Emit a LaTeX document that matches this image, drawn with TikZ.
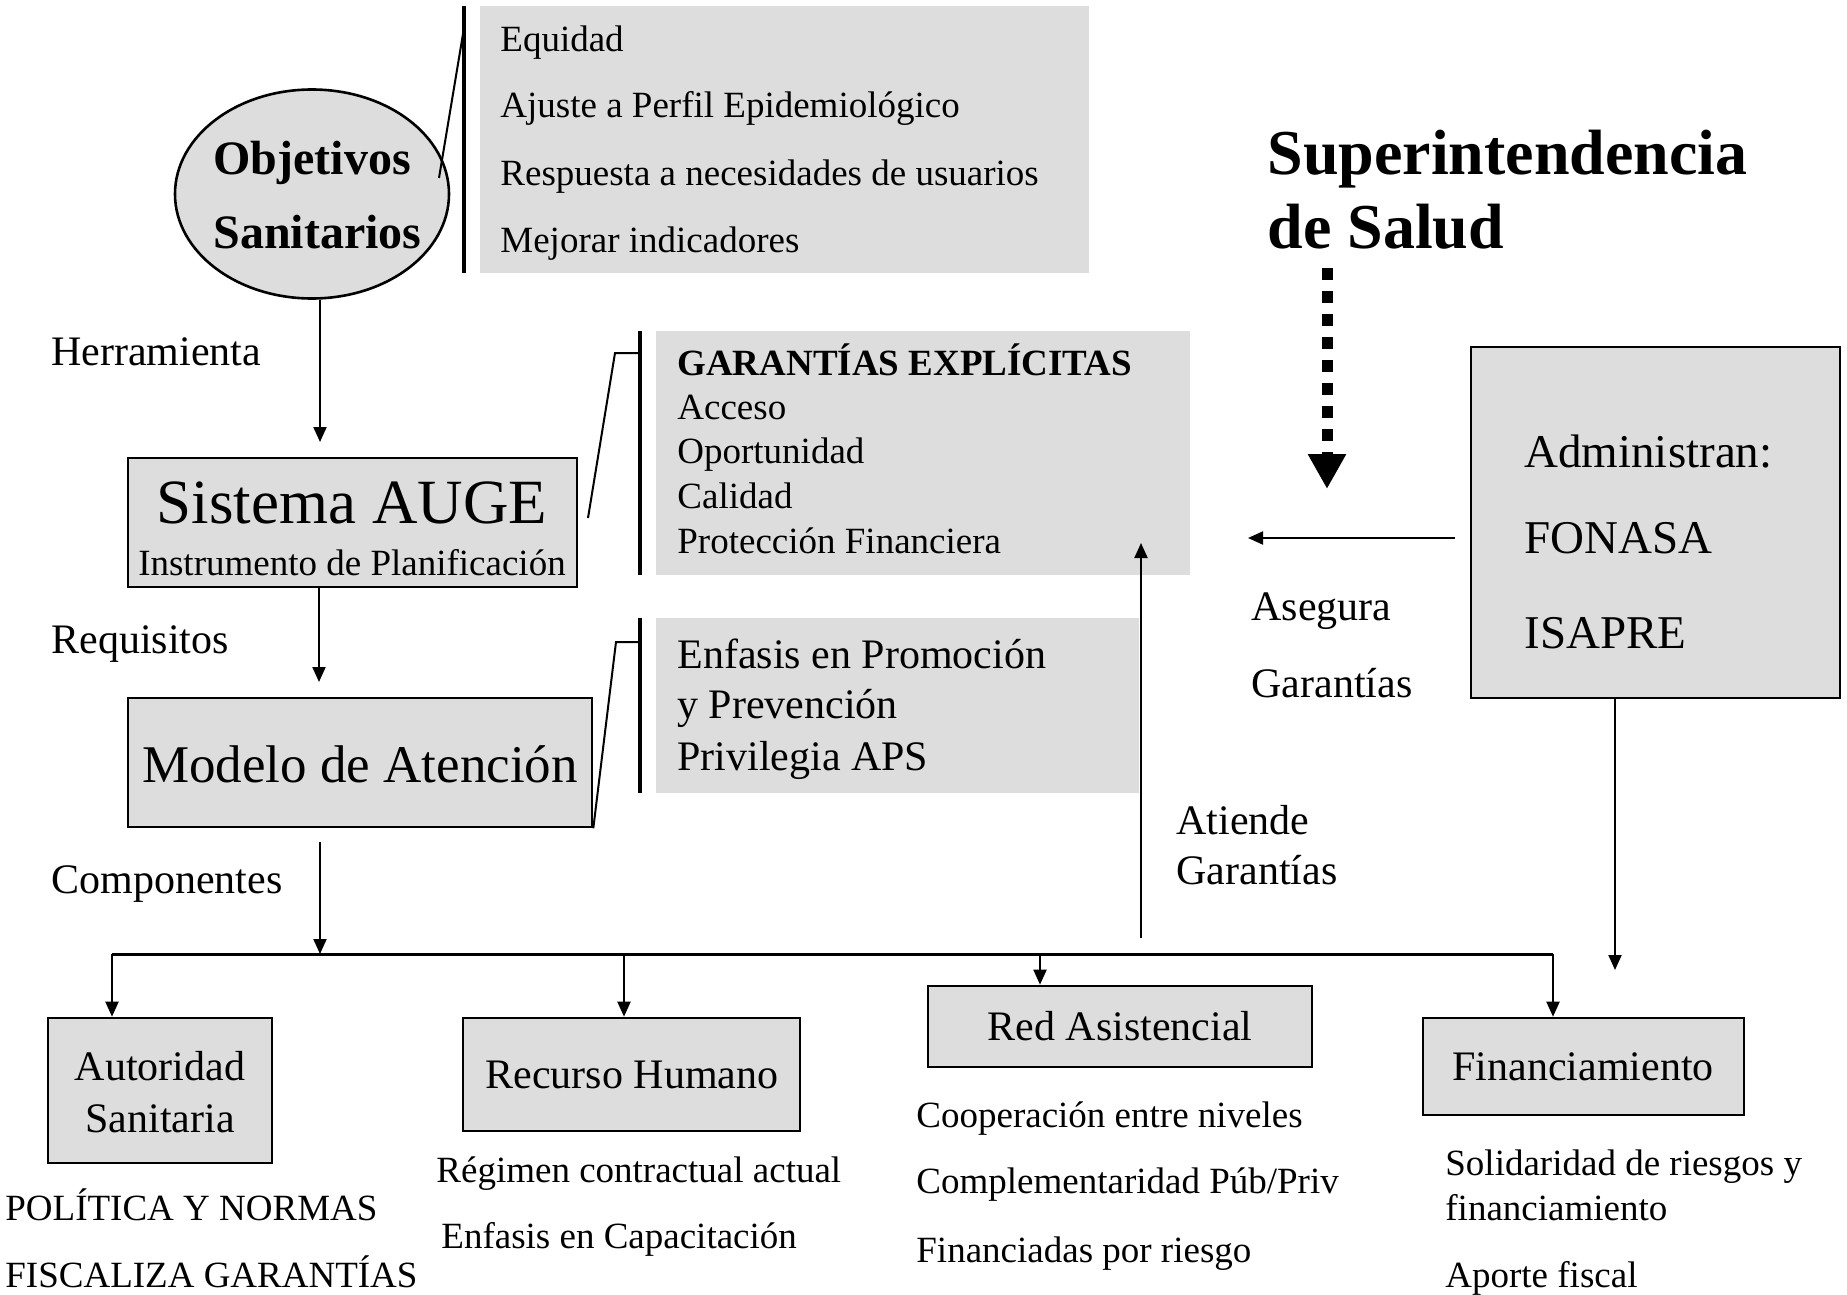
\documentclass[tikz,border=0pt]{standalone}
\usepackage{fontspec}
\setmainfont{Liberation Serif}
\usetikzlibrary{arrows.meta,shapes.geometric}
\definecolor{boxgrey}{HTML}{DDDDDD}
\tikzset{
  box/.style={draw, line width=1.3pt, fill=boxgrey, inner sep=0pt},
  panel/.style={fill=boxgrey, inner sep=0pt},
  txt/.style={anchor=base west, inner sep=0pt},
  ctxt/.style={anchor=base, inner sep=0pt},
  item/.style={txt, font=\fontsize{18.5}{22}\selectfont},
  lbl/.style={txt, font=\fontsize{21}{25}\selectfont},
  conn/.style={line width=1pt, -{Triangle[length=7.5pt,width=6.5pt]}},
  busline/.style={line width=1.5pt},
  bar/.style={line width=1.6pt},
  brack/.style={line width=1pt},
}

\begin{document}
\begin{tikzpicture}[x=0.5pt,y=-0.5pt]
  \useasboundingbox (0,0) rectangle (1847,1295);

  % grey panels with their brackets
  \node[panel, minimum width=304.5pt, minimum height=133.5pt] (objp) at (784.5,139.5) {};
  \node[panel, minimum width=267pt, minimum height=122pt] (garp) at (923,453) {};
  \node[panel, minimum width=241.5pt, minimum height=87.5pt] (enfp) at (897.5,705.5) {};

  % boxes
  \node[box, ellipse, minimum width=137pt, minimum height=104.5pt] (obj) at (312,194) {};
  \node[box, minimum width=224.5pt, minimum height=64.5pt] (auge) at (352.5,522.5) {};
  \node[box, minimum width=232pt, minimum height=64.5pt] (mod) at (360,762.5) {};
  \node[box, minimum width=112pt, minimum height=72.5pt] (aut) at (160,1090.5) {};
  \node[box, minimum width=168.5pt, minimum height=56.5pt] (rec) at (631.5,1074.5) {};
  \node[box, minimum width=192pt, minimum height=40.5pt] (red) at (1120,1026.5) {};
  \node[box, minimum width=160.5pt, minimum height=48.5pt] (fin) at (1583.5,1066.5) {};
  \node[box, minimum width=184.5pt, minimum height=175.5pt] (adm) at (1655.5,522.5) {};

  \draw[bar] (464,6) -- (464,273);
  \draw[bar] (640,331) -- (640,575);
  \draw[bar] (640,618) -- (640,793);
  \coordinate (objend) at (439,178);
  \coordinate (garend) at (588,518);
  \draw[brack] (464,28) -- (objend);
  \draw[brack] (640,353) -- (615,353) -- (garend);
  \draw[brack] (640,642) -- (616,642) -- (mod.south east);

  % texts in boxes
  \node[txt, font=\fontsize{24}{28}\bfseries] (obj1) at (213,175) {Objetivos};
  \node[txt, font=\fontsize{24}{28}\bfseries] (obj2) at (213,248) {Sanitarios};
  \node[ctxt, font=\fontsize{31.5}{36}\selectfont] (auge1) at (352,523) {Sistema AUGE};
  \node[ctxt, font=\fontsize{18.5}{22}\selectfont] (auge2) at (352,575) {Instrumento de Planificación};
  \node[ctxt, font=\fontsize{26.5}{30}\selectfont] (mod1) at (360,782) {Modelo de Atención};
  \node[ctxt, font=\fontsize{21}{25}\selectfont] (aut1) at (160,1080) {Autoridad};
  \node[ctxt, font=\fontsize{21}{25}\selectfont] (aut2) at (160,1132) {Sanitaria};
  \node[ctxt, font=\fontsize{21}{25}\selectfont] (rec1) at (632,1088) {Recurso Humano};
  \node[ctxt, font=\fontsize{21}{25}\selectfont] (red1) at (1120,1040) {Red Asistencial};
  \node[ctxt, font=\fontsize{21}{25}\selectfont] (fin1) at (1583,1080) {Financiamiento};
  \node[txt, font=\fontsize{23.5}{28}\selectfont] (adm1) at (1524,467) {Administran:};
  \node[txt, font=\fontsize{23.5}{28}\selectfont] (adm2) at (1524,553) {FONASA};
  \node[txt, font=\fontsize{23.5}{28}\selectfont] (adm3) at (1524,648) {ISAPRE};

  % panel lists
  \foreach \t/\y [count=\i] in {Equidad/52, Ajuste a Perfil Epidemiológico/118,
      Respuesta a necesidades de usuarios/185, Mejorar indicadores/252}
    \node[item] (eq\i) at (500,\y) {\t};
  \node[item, font=\fontsize{18.5}{22}\bfseries] (gar0) at (677,375) {GARANTÍAS EXPLÍCITAS};
  \foreach \t/\y [count=\i] in {Acceso/419, Oportunidad/463, Calidad/508, Protección Financiera/553}
    \node[item] (gar\i) at (677,\y) {\t};
  \foreach \t/\y [count=\i] in {Enfasis en Promoción/668, y Prevención/718, Privilegia APS/770}
    \node[lbl] (enf\i) at (677,\y) {\t};

  % labels
  \node[lbl] (herr) at (51,365) {Herramienta};
  \node[lbl] (requ) at (51,653) {Requisitos};
  \node[lbl] (compo) at (51,893) {Componentes};
  \node[lbl] (ase1) at (1251,620) {Asegura};
  \node[lbl] (ase2) at (1251,697) {Garantías};
  \node[lbl] (ati1) at (1176,834) {Atiende};
  \node[lbl] (ati2) at (1176,884) {Garantías};
  \node[txt, font=\fontsize{32}{36}\bfseries] (sup1) at (1267,175) {Superintendencia};
  \node[txt, font=\fontsize{32}{36}\bfseries] (sup2) at (1267,248) {de Salud};

  \node[item] (aut3) at (5,1220) {POLÍTICA Y NORMAS};
  \node[item] (aut4) at (5,1287) {FISCALIZA GARANTÍAS};
  \node[item] (rec2) at (436,1182) {Régimen contractual actual};
  \node[item] (rec3) at (441,1248) {Enfasis en Capacitación};
  \node[item] (red2) at (916,1127) {Cooperación entre niveles};
  \node[item] (red3) at (916,1193) {Complementaridad Púb/Priv};
  \node[item] (red4) at (916,1262) {Financiadas por riesgo};
  \node[item] (fin2) at (1445,1175) {Solidaridad de riesgos y};
  \node[item] (fin3) at (1445,1220) {financiamiento};
  \node[item] (fin4) at (1445,1287) {Aporte fiscal};

  % connectors
  \coordinate (herrtip) at (320,442);
  \coordinate (reqtip) at (319,682);
  \coordinate (comp0) at (320,842);
  \draw[conn] (obj.south -| herrtip) -- (herrtip);
  \draw[conn] (auge.south -| reqtip) -- (reqtip);

  \coordinate (b1) at (112,954);
  \coordinate (b2) at (624,954);
  \coordinate (b3) at (1040,954);
  \coordinate (b4) at (1553,954);
  \draw[conn] (comp0) -- (comp0 |- b1);
  \draw[busline] (b1) -- (b4);
  \foreach \b/\n in {b1/aut, b2/rec, b3/red, b4/fin}
    \draw[conn] (\b) -- (\b |- \n.north);

  \coordinate (ati0) at (1141,938);
  \coordinate (atitip) at (1141,543);
  \draw[conn] (ati0) -- (atitip);

  \coordinate (ase0) at (1455,538);
  \coordinate (asetip) at (1248,538);
  \draw[conn] (ase0) -- (asetip);

  \coordinate (fontip) at (1615,970);
  \draw[conn] (adm.south -| fontip) -- (fontip);

  \coordinate (sup0) at (1327,268);
  \coordinate (suptip) at (1327,489);
  \draw[line width=5.5pt, dash pattern=on 6pt off 5.5pt, -{Triangle[length=17.5pt,width=18pt]}] (sup0) -- (suptip);
\end{tikzpicture}
\end{document}
